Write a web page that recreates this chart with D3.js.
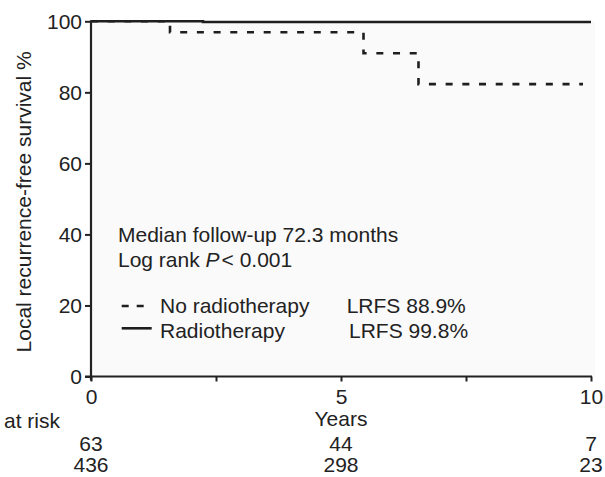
<!DOCTYPE html>
<html>
<head>
<meta charset="utf-8">
<script src="https://cdn.jsdelivr.net/npm/d3@7"></script>
<style>
  body { margin: 0; background: #fff; }
  text { font-family: "Liberation Sans", Arial, sans-serif; fill: #222; }
</style>
</head>
<body>
<div class="KM"></div>
<script>
// survival curves, years / percent
var noRtYears = [0, 1.58, 5.45, 6.55, 9.84];
var noRtSurv = [100, 96.9, 91.0, 82.3, 82.3];
var rtYears = [0, 2.24, 10];
var rtSurv = [100, 99.8, 99.8];

var yTicks = [0, 20, 40, 60, 80, 100];
var xTicks = [0, 2.5, 5, 7.5, 10];
var xTickLabels = [0, 5, 10];

// numbers at risk
var riskYears = [0, 5, 10];
var riskNoRt = [63, 44, 7];
var riskRt = [436, 298, 23];

var legendNames = ["No radiotherapy", "Radiotherapy"];
var legendLrfs = ["LRFS 88.9%", "LRFS 99.8%"];

var W = 605, H = 477;
var FS = 21; // font size px

var canvas = d3.select(".KM").append("svg")
    .attr("width", W)
    .attr("height", H);

var x = d3.scaleLinear().domain([0, 10]).range([91, 591]);
var y = d3.scaleLinear().domain([0, 100]).range([376.5, 21.3]);

// faint plot background
canvas.append("rect")
    .attr("x", x(0))
    .attr("y", y(100))
    .attr("width", x(10) - x(0) + 4)
    .attr("height", y(0) - y(100))
    .attr("fill", "#fafafa");

var toPts = function(xs, ys) {
    return xs.map(function(v, i) { return [v, ys[i]]; });
};

var line = d3.line()
    .x(function(d) { return x(d[0]); })
    .y(function(d) { return y(d[1]); })
    .curve(d3.curveStepAfter);

// radiotherapy (solid)
canvas.append("path")
    .attr("d", line(toPts(rtYears, rtSurv)))
    .attr("fill", "none")
    .attr("stroke", "#1e1e1e")
    .attr("stroke-width", 2.6);

// no radiotherapy (dashed)
canvas.append("path")
    .attr("d", line(toPts(noRtYears, noRtSurv)))
    .attr("fill", "none")
    .attr("stroke", "#1e1e1e")
    .attr("stroke-width", 2.6)
    .attr("stroke-dasharray", "7,9.7");

// axes
var yAxis = d3.axisLeft(y)
    .tickValues(yTicks)
    .tickSize(6)
    .tickPadding(3);

var xAxis = d3.axisBottom(x)
    .tickValues(xTicks)
    .tickSize(5)
    .tickPadding(7.5)
    .tickFormat(function(d) { return xTickLabels.indexOf(d) >= 0 ? d : ""; });

var gy = canvas.append("g")
    .attr("transform", "translate(" + x(0) + ",0)")
    .call(yAxis);

var gx = canvas.append("g")
    .attr("transform", "translate(0," + y(0) + ")")
    .call(xAxis);

[gx, gy].forEach(function(g) {
    g.select(".domain").remove();
    g.selectAll("line").attr("stroke", "#222").attr("stroke-width", 2);
    g.selectAll("text")
        .attr("font-family", "Liberation Sans, Arial, sans-serif")
        .attr("font-size", FS)
        .attr("fill", "#222");
});

// axis lines drawn by hand so they meet at the corner
canvas.append("line")
    .attr("x1", x(0)).attr("x2", x(0))
    .attr("y1", y(100) - 1).attr("y2", y(0) + 4)
    .attr("stroke", "#222").attr("stroke-width", 2.2);
canvas.append("line")
    .attr("x1", x(0) - 6).attr("x2", x(10) + 1)
    .attr("y1", y(0)).attr("y2", y(0))
    .attr("stroke", "#222").attr("stroke-width", 2.2);

// axis titles
canvas.append("text")
    .attr("transform", "translate(31," + ((y(0) + y(100)) / 2 + 3) + ") rotate(-90)")
    .attr("text-anchor", "middle")
    .attr("font-size", FS)
    .text("Local recurrence-free survival %");

canvas.append("text")
    .attr("x", x(5))
    .attr("y", 426)
    .attr("text-anchor", "middle")
    .attr("font-size", FS)
    .text("Years");

// notes
canvas.append("text")
    .attr("x", 118)
    .attr("y", 242)
    .attr("font-size", FS)
    .text("Median follow-up 72.3 months");

var lr = canvas.append("text")
    .attr("x", 118)
    .attr("y", 267)
    .attr("font-size", FS);
lr.append("tspan").text("Log rank ");
lr.append("tspan").attr("font-style", "italic").text("P");
lr.append("tspan").attr("dx", 2).text("< 0.001");

// legend
var legY = [313.3, 337.7];
canvas.append("line")
    .attr("x1", 121.7).attr("x2", 144)
    .attr("y1", legY[0] - 7.3).attr("y2", legY[0] - 7.3)
    .attr("stroke", "#1e1e1e")
    .attr("stroke-width", 2.6)
    .attr("stroke-dasharray", "7,8");
canvas.append("line")
    .attr("x1", 121.7).attr("x2", 151.7)
    .attr("y1", legY[1] - 9.4).attr("y2", legY[1] - 9.4)
    .attr("stroke", "#1e1e1e")
    .attr("stroke-width", 2.6);

legendNames.forEach(function(n, i) {
    canvas.append("text")
        .attr("x", 160)
        .attr("y", legY[i])
        .attr("font-size", FS)
        .text(n);
    canvas.append("text")
        .attr("x", i == 0 ? 346.7 : 349)
        .attr("y", legY[i])
        .attr("font-size", FS)
        .text(legendLrfs[i]);
});

// numbers at risk
canvas.append("text")
    .attr("x", 4)
    .attr("y", 428)
    .attr("font-size", FS)
    .text("at risk");

[riskNoRt, riskRt].forEach(function(row, r) {
    canvas.selectAll(null)
        .data(row)
        .enter().append("text")
        .attr("x", function(d, i) { return x(riskYears[i]); })
        .attr("y", r == 0 ? 450.5 : 471.5)
        .attr("text-anchor", "middle")
        .attr("font-size", FS)
        .text(function(d) { return d; });
});
</script>
</body>
</html>
